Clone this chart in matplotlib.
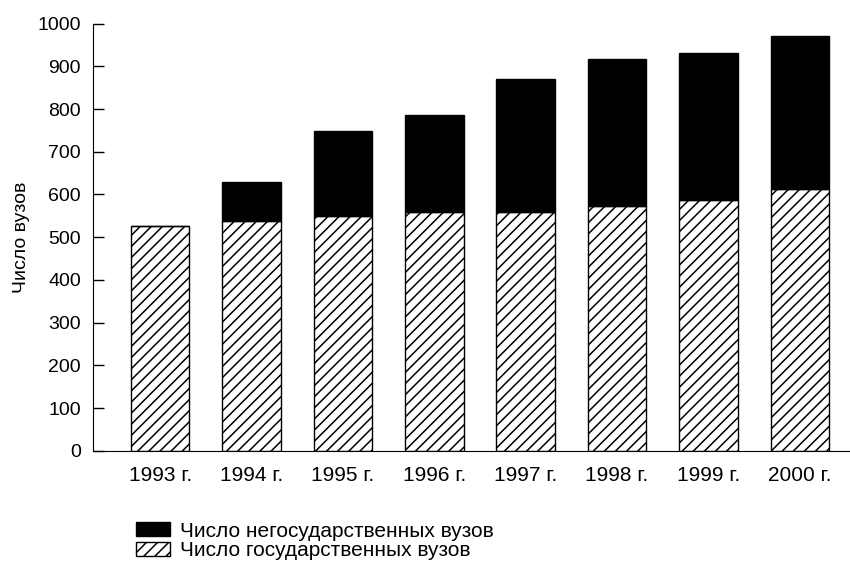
import matplotlib
matplotlib.use("Agg")
import matplotlib.pyplot as plt
import numpy as np

# Данные (оценка по картинке)
years = ["1993 г.", "1994 г.", "1995 г.", "1996 г.", "1997 г.", "1998 г.", "1999 г.", "2000 г."]
state = [525, 537, 549, 558, 558, 574, 587, 612]
total = [525, 630, 749, 787, 870, 917, 932, 971]
nonstate = [t - s for t, s in zip(total, state)]

plt.rcParams["font.family"] = ["Liberation Sans", "DejaVu Sans"]
plt.rcParams["hatch.linewidth"] = 1.1

fig = plt.figure(figsize=(8.5, 5.62), dpi=100)
ax = fig.add_axes([0.109, 0.198, 0.891, 0.76])

x = np.arange(len(years))
ax.bar(x, state, width=0.64, color="white", edgecolor="black", linewidth=1.0,
       hatch="///", label="Число государственных вузов")
ax.bar(x, nonstate, bottom=state, width=0.64, color="black", edgecolor="black",
       linewidth=1.0, label="Число негосударственных вузов")

ax.set_xlim(-0.74, 7.55)
ax.set_ylim(0, 1000)
ax.set_yticks(range(0, 1001, 100))
ax.set_xticks(x)
ax.set_xticklabels(years)

for s in ("top", "right"):
    ax.spines[s].set_visible(False)
ax.tick_params(axis="y", direction="in", length=8, width=1, pad=8.4, labelsize=14)
ax.tick_params(axis="x", length=0, pad=11, labelsize=15)

ax.set_ylabel("Число вузов", fontsize=14)
ax.yaxis.set_label_coords(-0.083, 0.5)

# легенда под графиком, строки стоят плотно
handles, labels = ax.get_legend_handles_labels()
fig.legend(handles[::-1], labels[::-1], loc="upper left",
           bbox_to_anchor=(121 / 850, 1 - 507 / 562), frameon=False,
           fontsize=15, handlelength=1.65, handleheight=0.66,
           handletextpad=0.5, labelspacing=0.03, borderpad=0.2)

fig.savefig("out.png", dpi=100)
